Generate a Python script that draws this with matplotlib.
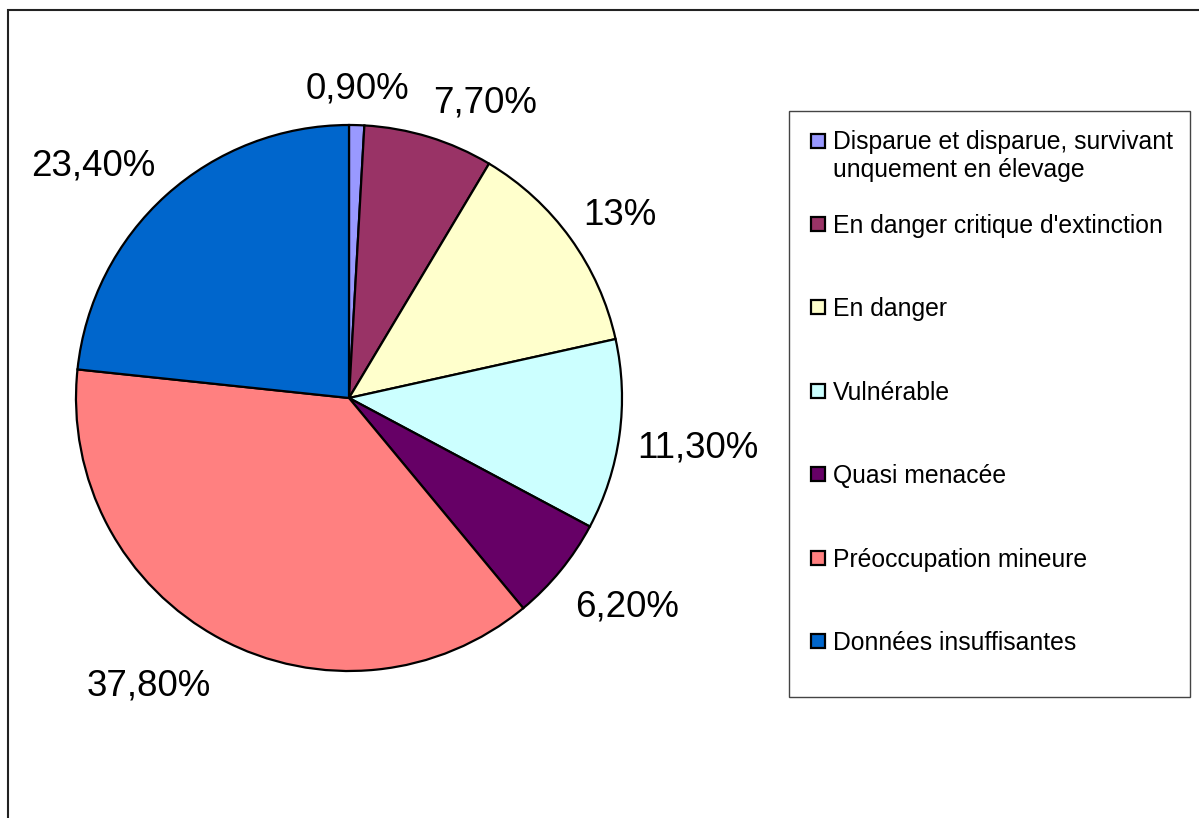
import matplotlib.pyplot as plt
from matplotlib.patches import Rectangle
import numpy as np

plt.rcParams['font.family'] = ['Liberation Sans', 'DejaVu Sans']

# data
categories = ['Disparue et disparue, survivant\nunquement en élevage',
              "En danger critique d'extinction",
              'En danger',
              'Vulnérable',
              'Quasi menacée',
              'Préoccupation mineure',
              'Données insuffisantes']
values = [0.9, 7.7, 13, 11.3, 6.2, 37.8, 23.4]
pct_labels = ['0,90%', '7,70%', '13%', '11,30%', '6,20%', '37,80%', '23,40%']
colors = ['#9999FF', '#993366', '#FFFFCC', '#CCFFFF', '#660066', '#FF8080', '#0066CC']

# label placement (style): radial distance and angle nudge in degrees
label_r = [1.146, 1.201, 1.203, 1.290, 1.266, 1.276, 1.274]
label_nudge = [0.1, -7.45, -1.4, 0.2, 2.7, -7.0, 5.4]

W, H = 1199, 818
fig = plt.figure(figsize=(W / 100, H / 100), dpi=100)

def fx(px):
    return px / W

def fy(py):
    return 1 - py / H

# pie centre at (349, 398) px, radius 273 px
R = 273.0
half = 340.0
ax = fig.add_axes([fx(349 - half), fy(398 + half), 2 * half / W, 2 * half / H])
wedges, _ = ax.pie(values, colors=colors, startangle=90, counterclock=False,
                   wedgeprops=dict(edgecolor='black', linewidth=1.6))
ax.set_xlim(-half / R, half / R)
ax.set_ylim(-half / R, half / R)
ax.axis('off')

for w, lab, r, nd in zip(wedges, pct_labels, label_r, label_nudge):
    ang = np.deg2rad((w.theta1 + w.theta2) / 2 + nd)
    ax.text(r * np.cos(ang), r * np.sin(ang) - 0.012, lab, ha='center', va='center',
            fontsize=26.5, clip_on=False)

# outer chart border (clipped at right/bottom)
fig.patches.append(Rectangle((fx(7.5), fy(900)), fx(1300), fy(10.5) - fy(900),
                             transform=fig.transFigure, fill=False,
                             edgecolor='#222222', linewidth=1.5))

# legend box
fig.patches.append(Rectangle((fx(789), fy(697)), fx(1190) - fx(789), fy(111) - fy(697),
                             transform=fig.transFigure, fill=False,
                             edgecolor='#444444', linewidth=1.0))

first_c = 141
step = 83.4
line_gap = 27
for i, (cat, col) in enumerate(zip(categories, colors)):
    cy = first_c if i == 0 else 224 + (i - 1) * step
    nlines = cat.count('\n') + 1
    fig.patches.append(Rectangle((fx(810.5), fy(cy + 7)), 14 / W, 14 / H,
                                 transform=fig.transFigure, facecolor=col,
                                 edgecolor='black', linewidth=1.6))
    fig.text(fx(833), fy(cy + 9 + (nlines - 1) * line_gap), cat, ha='left',
             va='baseline', fontsize=17.8, linespacing=1.2)

fig.savefig('out.png', dpi=100)
